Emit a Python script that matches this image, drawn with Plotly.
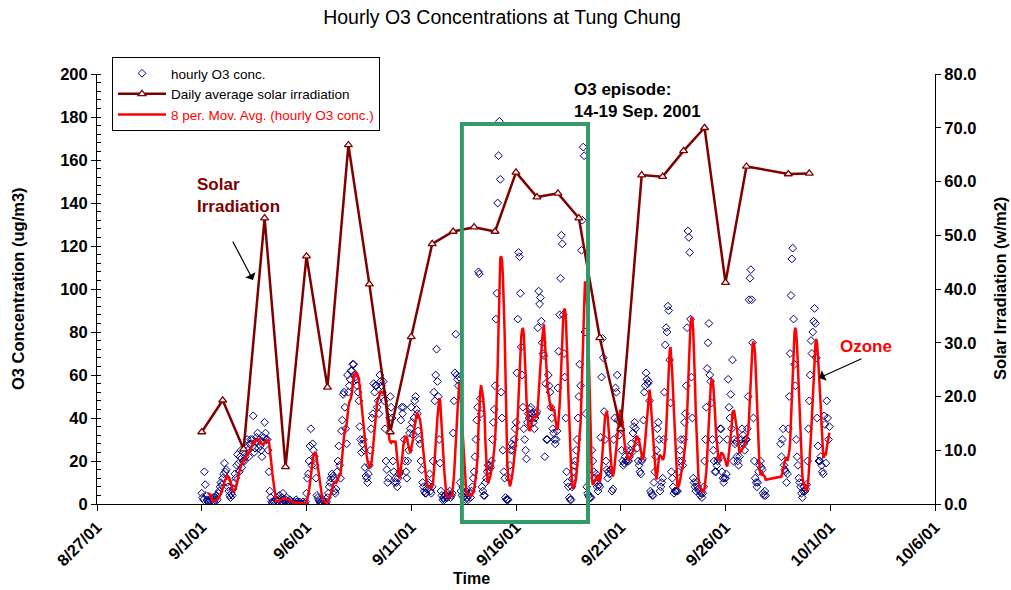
import pandas as pd
import plotly.graph_objects as go

# ---------------------------------------------------------------------------
# Hourly O3 concentration at Tung Chung (ug/m3), hours 00..23 of each day.
# None marks hours with no record.
# ---------------------------------------------------------------------------
o3_0901 = [5, 3, 2, 15, 9, 4, 2, 1, 1, 2, 1, 0, 2, 3, 1, 2, 3, 4, 2, 5, 6, 8, 10, 9]
o3_0902 = [12, 14, 19, 15, 16, 10, 8, 6, 4, 3, 5, 4, 7, 10, 14, 12, 18, 23, 19, 15, 22, 25, 17, 20]
o3_0903 = [24, 20, 22, 26, 30, 25, 22, 28, 30, 28, 30, 41, 24, 26, 29, 31, 33, 26, 30, 27, 25, 22, 29, 31]
o3_0904 = [38, 33, 30, 30, 25, 15, 6, 3, 1, 0, 1, 1, 0, 2, 3, 1, 2, 4, 2, 1, 3, 5, 2, 1]
o3_0905 = [2, 3, 1, 0, 1, 2, 0, 1, 0, 0, 1, 0, 2, 1, 0, 0, 1, 0, 0, 0, 1, 0, 0, 1]
o3_0906 = [5, 12, 14, 20, 27, 35, 18, 28, 25, 22, 18, 12, 4, 3, 2, 1, 0, 1, 0, 2, 1, 0, 0, 1]
o3_0907 = [3, 5, 8, 10, 12, 14, 13, 12, 6, 5, 7, 15, 20, 27, 18, 12, 34, 39, 51, 52, 45, 35, 28, 60]
o3_0908 = [52, 55, 58, 62, 62, 65, 65, 60, 59, 58, 55, 52, 48, 36, 30, 24, 28, 30, 25, 17, 13, 12, 10, 14]
o3_0909 = [18, 25, 35, 40, 42, 56, 52, 55, 55, 45, 48, 42, 60, 57, 55, 52, 57, 48, 35, 20, 16, 10, 12, 40]
o3_0910 = [50, 45, 40, 20, 15, 10, 12, 10, 8, 12, 14, 15, 39, 45, 42, 45, 30, 20, 15, 12, 20, 25, 33, 35]
o3_0911 = [45, 38, 32, 40, 48, 50, 44, 42, 34, 30, 28, 20, 16, 10, 8, 6, 5, 5, 7, 9, 10, 14, 6, 5]
o3_0912 = [8, 20, 52, 48, 60, 72, 57, 50, 30, 19, 6, 4, 2, 3, 2, 4, 3, 3, 5, 4, 6, 3, 4, 5]
o3_0913 = [33, 48, 61, 79, 60, 58, 55, 59, 10, 6, 4, 8, 3, 5, 2, 6, 3, 2, 4, 5, 3, 6, 8, 12]
o3_0914 = [15, 22, 30, 39, 45, 108, 107, 49, 42, 8, 6, 4, 4, 10, 12, 15, 18, 16, 18, 17, 20, 30, 38, 44]
o3_0915 = [55, 86, 98, 140, 162, 178, 151, 52, 40, 25, 15, 12, 3, 2, 2, 2, 12, 18, 25, 28, 25, 27, 30, 35]
o3_0916 = [38, 61, 86, 117, 115, 98, 73, 60, 45, 35, 30, 25, 21, 38, 42, 40, 44, 45, 42, 40, 38, 35, 40, 42]
o3_0917 = [43, 82, 99, 93, 96, 85, 75, 70, 69, 22, 56, 30, 30, 60, 55, 52, 45, 40, 35, 33, 30, 28, 30, 34]
o3_0918 = [54, 71, 88, 105, 125, 121, 88, 70, 59, 40, 15, 10, 8, 3, 2, 2, 8, 12, 15, 18, 20, 25, 30, 40]
o3_0919 = [50, 65, 55, 118, 132, 166, 162, 80, 42, 8, 5, 4, 3, 3, 3, 25, 20, 15, 12, 10, 14, 8, 6, 9]
o3_0920 = [8, 31, 59, 77, 68, 43, 30, 20, 16, 12, 15, 14, 16, 16, 6, 7, 30, 40, 54, 52, 60, 39, 32, 38]
o3_0921 = [35, 25, 20, 18, 19, 22, 20, 25, 20, 20, 22, 25, 28, 24, 33, 36, 38, 35, 30, 26, 20, 18, 15, 14]
o3_0922 = [20, 21, 39, 52, 55, 61, 58, 56, 57, 48, 6, 5, 4, 4, 10, 15, 22, 25, 35, 38, 30, 6, 8, 10]
o3_0923 = [12, 30, 52, 74, 82, 80, 92, 90, 67, 47, 15, 12, 8, 5, 6, 6, 6, 6, 15, 20, 25, 30, 20, 18]
o3_0924 = [30, 38, 42, 55, 82, 127, 124, 117, 86, 59, 40, 12, 10, 8, 6, 10, 8, 7, 6, 4, 5, 3, 5, 8]
o3_0925 = [20, 30, 45, 63, 75, 84, 60, 57, 47, 30, 25, 20, 15, 15, 18, 20, 21, 30, 35, 35, 15, 12, 10, 12]
o3_0926 = [12, 14, 30, 58, 45, 40, 51, 35, 67, 20, 30, 28, 29, 22, 20, 18, 22, 28, 30, 35, 32, 28, 25, 30]
o3_0927 = [30, 35, 50, 95, 105, 109, 95, 75, 40, 20, 12, 10, 8, 10, 15, 18, 20, 17, 16, 5, 4, 6, 4, None]
o3_0928 = [None] * 15 + [28, 22, 30, 35, 18, 16, 15, 10, 14]
o3_0929 = [35, 50, 70, 97, 114, 119, 86, 65, 55, 30, 22, 18, 12, 10, 8, 5, 3, 6, 8, 6, 7, 9, 20, 35]
o3_0930 = [48, 60, 76, 70, 80, 85, 91, 84, 68, 40, 27, 20, 20, 22, 18, 15, 14, 41, 37, 19, 48, 40, 30, 36]

o3_days = [
    o3_0901, o3_0902, o3_0903, o3_0904, o3_0905, o3_0906, o3_0907, o3_0908,
    o3_0909, o3_0910, o3_0911, o3_0912, o3_0913, o3_0914, o3_0915, o3_0916,
    o3_0917, o3_0918, o3_0919, o3_0920, o3_0921, o3_0922, o3_0923, o3_0924,
    o3_0925, o3_0926, o3_0927, o3_0928, o3_0929, o3_0930,
]
o3_first_day = "2001-09-01"

# Daily average solar irradiation (w/m2); no record for 28 Sep
solar_dates = [
    "2001-09-01", "2001-09-02", "2001-09-03", "2001-09-04", "2001-09-05",
    "2001-09-06", "2001-09-07", "2001-09-08", "2001-09-09", "2001-09-10",
    "2001-09-11", "2001-09-12", "2001-09-13", "2001-09-14", "2001-09-15",
    "2001-09-16", "2001-09-17", "2001-09-18", "2001-09-19", "2001-09-20",
    "2001-09-21", "2001-09-22", "2001-09-23", "2001-09-24", "2001-09-25",
    "2001-09-26", "2001-09-27", "2001-09-29", "2001-09-30",
]
solar_values = [
    13.4, 19.3, 10.2, 53.2, 6.9, 46.1, 21.7, 66.8, 40.9, 13.4,
    31.1, 48.4, 50.7, 51.5, 50.7, 61.7, 57.1, 57.8, 53.2, 30.9,
    14.0, 61.2, 60.9, 65.7, 70.0, 41.2, 62.8, 61.4, 61.5,
]

# Time axis
x_range = ["2001-08-27", "2001-10-06"]
x_tick_dates = ["2001-08-27", "2001-09-01", "2001-09-06", "2001-09-11", "2001-09-16",
                "2001-09-21", "2001-09-26", "2001-10-01", "2001-10-06"]
x_tick_labels = ["8/27/01", "9/1/01", "9/6/01", "9/11/01", "9/16/01",
                 "9/21/01", "9/26/01", "10/1/01", "10/6/01"]

# Highlighted ozone episode window
episode_start = "2001-09-13 10:00"
episode_end = "2001-09-19 10:30"

# ---------------------------------------------------------------------------
# Build the hourly series and its 8-period moving average
# ---------------------------------------------------------------------------
hourly_values = [v for day in o3_days for v in day]
hourly_index = pd.date_range(o3_first_day, periods=len(hourly_values), freq="h")
o3 = pd.Series(hourly_values, index=hourly_index, dtype="float").dropna()
o3_ma8 = o3.rolling(8).mean()

FONT = "Liberation Sans, Arial, Helvetica, sans-serif"
NAVY = "#000080"
MAROON = "#800000"
RED = "#FF0000"
GREEN = "#339966"

# plot area in pixels (figure is 1011 x 590)
L, R, T, B = 97, 935, 74, 504


def px_x(px):
    return (px - L) / (R - L)


def px_y(py):
    return (B - py) / (B - T)


fig = go.Figure()

fig.add_trace(go.Scatter(
    x=o3.index, y=o3.values, mode="markers", name="hourly O3 conc.",
    marker=dict(symbol="diamond-open", size=6, color=NAVY, line=dict(width=1, color=NAVY)),
    yaxis="y",
))
fig.add_trace(go.Scatter(
    x=pd.to_datetime(solar_dates), y=solar_values, mode="lines+markers",
    name="Daily average solar irradiation",
    line=dict(color=MAROON, width=2.5),
    marker=dict(symbol="triangle-up", size=7, color="white", line=dict(color=MAROON, width=1.3)),
    yaxis="y2",
))
fig.add_trace(go.Scatter(
    x=o3_ma8.index, y=o3_ma8.values, mode="lines",
    name="<span style='color:#FF0000'>8 per. Mov. Avg. (hourly O3 conc.)</span>",
    line=dict(color=RED, width=2.5),
    yaxis="y",
))

tick_font = dict(family=FONT, size=16.5, color="black", weight="bold")

fig.update_layout(
    width=1011, height=590,
    margin=dict(l=L, r=1011 - R, t=T, b=590 - B, pad=0),
    paper_bgcolor="white", plot_bgcolor="white",
    font=dict(family=FONT, color="black"),
    title=dict(text="Hourly O3 Concentrations at Tung Chung",
               font=dict(family=FONT, size=19.5, color="black"),
               x=502 / 1011, xanchor="center", y=1 - 17 / 590, yanchor="middle"),
    showlegend=True,
    legend=dict(x=px_x(112), y=px_y(57), xanchor="left", yanchor="top",
                bgcolor="white", bordercolor="black", borderwidth=1,
                font=dict(family=FONT, size=13.5, color="black"),
                tracegroupgap=0, itemwidth=48),
    xaxis=dict(type="date", range=x_range, tickvals=pd.to_datetime(x_tick_dates),
               ticktext=x_tick_labels, tickangle=-45, ticks="outside", ticklen=6,
               tickcolor="black", showline=True, linecolor="black", linewidth=1,
               showgrid=False, zeroline=False, tickfont=tick_font),
    yaxis=dict(range=[0, 200], dtick=20, ticks="outside", ticklen=5, tickcolor="black",
               minor=dict(ticks="inside", dtick=4, ticklen=4, tickcolor="black"),
               showline=True, linecolor="black", linewidth=1, showgrid=False,
               zeroline=False, tickfont=tick_font),
    yaxis2=dict(range=[0, 80], dtick=10, tickformat=".1f", overlaying="y", side="right",
                ticks="outside", ticklen=5, tickcolor="black",
                showline=True, linecolor="black", linewidth=1, showgrid=False,
                zeroline=False, tickfont=tick_font),
    # inner halves of the major ticks, so that they cross the axis lines
    yaxis3=dict(range=[0, 200], dtick=20, overlaying="y", side="left", anchor="x",
                ticks="inside", ticklen=5, tickcolor="black", showticklabels=False,
                showline=False, showgrid=False, zeroline=False),
    yaxis4=dict(range=[0, 80], dtick=10, overlaying="y", side="right", anchor="x",
                ticks="inside", ticklen=5, tickcolor="black", showticklabels=False,
                showline=False, showgrid=False, zeroline=False),
)

# Episode window outline (extends below the time axis)
t0, t1 = pd.Timestamp(x_range[0]), pd.Timestamp(x_range[1])
span = (t1 - t0).total_seconds()
ex0 = (pd.Timestamp(episode_start) - t0).total_seconds() / span
ex1 = (pd.Timestamp(episode_end) - t0).total_seconds() / span
fig.add_shape(type="rect", xref="paper", yref="paper",
              x0=ex0, x1=ex1, y0=px_y(522), y1=px_y(124),
              line=dict(color=GREEN, width=4), fillcolor="rgba(0,0,0,0)", layer="above")

label_font = dict(family=FONT, size=17, weight="bold")
annotations = [
    dict(text="O3 Concentration (ug/m3)", x=px_x(18), y=0.5, textangle=-90,
         font=dict(family=FONT, size=16.5, color="black", weight="bold")),
    dict(text="Solar Irradiation (w/m2)", x=px_x(1000), y=0.5, textangle=-90,
         font=dict(family=FONT, size=16.5, color="black", weight="bold")),
    dict(text="Time", x=px_x(471), y=px_y(578),
         font=dict(family=FONT, size=16, color="black", weight="bold")),
    dict(text="O3 episode:<br>14-19 Sep. 2001", x=px_x(572), y=px_y(100), xanchor="left",
         align="left", font=dict(label_font, color="black")),
    dict(text="Solar<br>Irradiation", x=px_x(195), y=px_y(195), xanchor="left",
         align="left", font=dict(label_font, color=MAROON)),
    dict(text="Ozone", x=px_x(866), y=px_y(347), font=dict(label_font, color=RED)),
]
for a in annotations:
    fig.add_annotation(xref="paper", yref="paper", showarrow=False,
                       xanchor=a.pop("xanchor", "center"), yanchor="middle", **a)

# Pointer arrows
for head, tail in [((253, 280), (232, 240)), ((819, 378), (863, 358))]:
    fig.add_annotation(xref="paper", yref="paper", x=px_x(head[0]), y=px_y(head[1]),
                       ax=tail[0] - head[0], ay=tail[1] - head[1], text="",
                       showarrow=True, arrowhead=1, arrowsize=1.6, arrowwidth=1.2,
                       arrowcolor="black")

fig.write_html("out.html")
